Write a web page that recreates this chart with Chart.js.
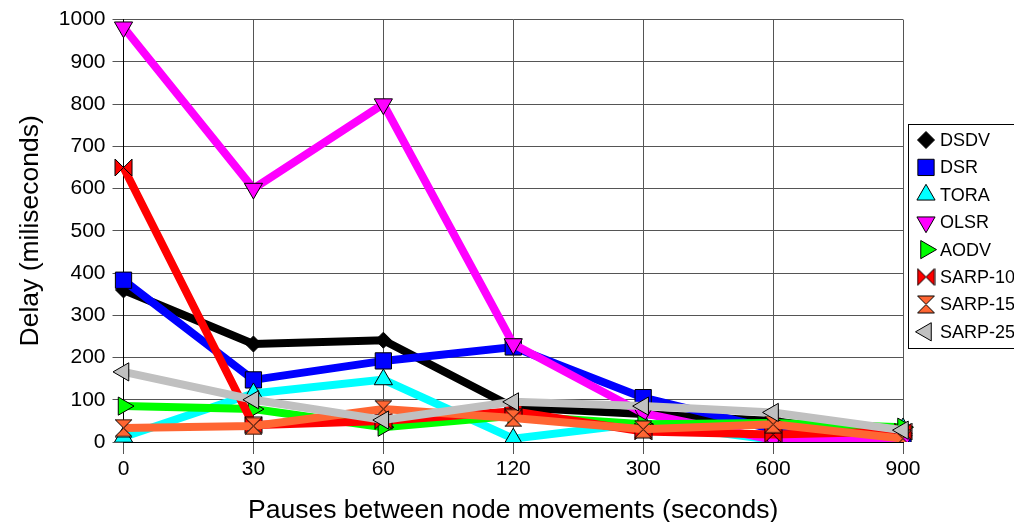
<!DOCTYPE html>
<html lang="en">
<head>
    <meta charset="UTF-8">
    <title>Delay vs pause time</title>
    <script src="https://cdn.jsdelivr.net/npm/chart.js"></script>
    <style>
        html, body {
            margin: 0;
            padding: 0;
            background: #fff;
            overflow: hidden;
        }
        #wrap {
            width: 1014px;
            height: 527px;
        }
    </style>
</head>
<body>
    <div id="wrap"><canvas id="delayChart"></canvas></div>

    <script>
        // pause times (seconds) on the x axis
        const pauses = ['0', '30', '60', '120', '300', '600', '900'];

        // average delay per protocol (miliseconds)
        const dsdv   = [360, 232, 241, 82, 66, 50, 10];
        const dsr    = [383, 147, 192, 225, 105, 30, 3];
        const tora   = [12, 115, 148, 8, 45, 5, 32];
        const olsr   = [982, 600, 800, 232, 68, 5, 3];
        const aodv   = [85, 78, 35, 62, 42, 45, 35];
        const sarp10 = [650, 40, 50, 73, 25, 18, 25];
        const sarp15 = [33, 38, 78, 57, 30, 42, 8];
        const sarp25 = [166, 100, 52, 95, 85, 70, 28];

        const FONT = 'Liberation Sans, Arial, sans-serif';

        // marker shapes chart.js has no built-in style for
        function makeMarker(kind, color, size) {
            const c = document.createElement('canvas');
            c.width = size + 2;
            c.height = size + 2;
            const g = c.getContext('2d');
            const a = 1, b = size + 1, m = (size + 2) / 2;
            g.fillStyle = color;
            g.strokeStyle = '#000';
            g.lineWidth = 1;
            g.beginPath();
            if (kind === 'hourglass') {
                g.moveTo(a, a); g.lineTo(b, a); g.lineTo(m, m); g.closePath();
                g.moveTo(m, m); g.lineTo(b, b); g.lineTo(a, b); g.closePath();
            } else {
                g.moveTo(a, a); g.lineTo(m, m); g.lineTo(a, b); g.closePath();
                g.moveTo(b, a); g.lineTo(b, b); g.lineTo(m, m); g.closePath();
            }
            g.fill();
            g.stroke();
            return c;
        }

        const bowtie = makeMarker('bowtie', '#FF0000', 17);
        const hourglass = makeMarker('hourglass', '#FF6633', 17);

        function series(label, data, color, style, rotation, radius) {
            return {
                label: label,
                data: data,
                borderColor: color,
                backgroundColor: color,
                borderWidth: 8,
                pointStyle: style,
                pointRotation: rotation,
                pointRadius: radius,
                pointHoverRadius: radius,
                pointBackgroundColor: color,
                pointBorderColor: '#000',
                pointBorderWidth: 1,
                tension: 0,
                fill: false
            };
        }

        const datasets = [
            series('DSDV', dsdv, '#000000', 'rectRot', 0, 8),
            series('DSR', dsr, '#0000FF', 'rect', 0, 11.5),
            series('TORA', tora, '#00FFFF', 'triangle', 0, 10.5),
            series('OLSR', olsr, '#FF00FF', 'triangle', 180, 10.5),
            series('AODV', aodv, '#00FF00', 'triangle', 90, 10.5),
            series('SARP-10', sarp10, '#FF0000', bowtie, 0, 10),
            series('SARP-15', sarp15, '#FF6633', hourglass, 0, 10),
            series('SARP-25', sarp25, '#C0C0C0', 'triangle', 270, 10.5)
        ];
        // later series are painted over earlier ones
        datasets.forEach((ds, i) => { ds.order = datasets.length - i; });

        // boxed legend to the right of the plot
        const boxedLegend = {
            id: 'boxedLegend',
            afterDraw(chart) {
                const ctx = chart.ctx;
                const left = chart.chartArea.right + 5;
                const top = 124;
                const rowH = 27.4;
                ctx.save();
                ctx.strokeStyle = '#000';
                ctx.lineWidth = 1;
                ctx.strokeRect(left + 0.5, top + 0.5, 200, 224);
                ctx.font = '18px ' + FONT;
                ctx.textBaseline = 'middle';
                chart.data.datasets.forEach((ds, i) => {
                    const y = top + 16 + i * rowH;
                    ctx.fillStyle = ds.pointBackgroundColor;
                    ctx.strokeStyle = '#000';
                    ctx.lineWidth = 1;
                    Chart.helpers.drawPoint(ctx, {
                        pointStyle: ds.pointStyle,
                        rotation: ds.pointRotation,
                        radius: ds.pointStyle === 'rectRot' ? 8.5 : ds.pointRadius,
                        borderWidth: 1
                    }, left + 18, y);
                    ctx.fillStyle = '#000';
                    ctx.fillText(ds.label, left + 32, y + 1);
                });
                ctx.restore();
            }
        };

        new Chart(document.getElementById('delayChart'), {
            type: 'line',
            data: { labels: pauses, datasets: datasets },
            plugins: [boxedLegend],
            options: {
                responsive: true,
                maintainAspectRatio: false,
                animation: false,
                layout: { padding: { top: 9, right: 111, bottom: 0, left: 14.5 } },
                plugins: {
                    legend: { display: false },
                    tooltip: { enabled: false }
                },
                scales: {
                    x: {
                        offset: false,
                        grid: { color: '#555', lineWidth: 1, tickLength: 12 },
                        border: { color: '#000' },
                        ticks: { color: '#000', font: { family: FONT, size: 21 }, padding: 3 },
                        title: {
                            display: true,
                            text: 'Pauses between node movements (seconds)',
                            color: '#000',
                            font: { family: FONT, size: 26.5 },
                            padding: { top: 10, bottom: 0 }
                        }
                    },
                    y: {
                        min: 0,
                        max: 1000,
                        ticks: {
                            stepSize: 100,
                            color: '#000',
                            font: { family: FONT, size: 21 },
                            padding: 7,
                            callback: v => String(v)
                        },
                        grid: { color: '#555', lineWidth: 1, tickLength: 11 },
                        border: { color: '#000' },
                        title: {
                            display: true,
                            text: 'Delay (miliseconds)',
                            color: '#000',
                            font: { family: FONT, size: 26.5 },
                            padding: { top: 0, bottom: 5.5 }
                        }
                    }
                }
            }
        });
    </script>
</body>
</html>
